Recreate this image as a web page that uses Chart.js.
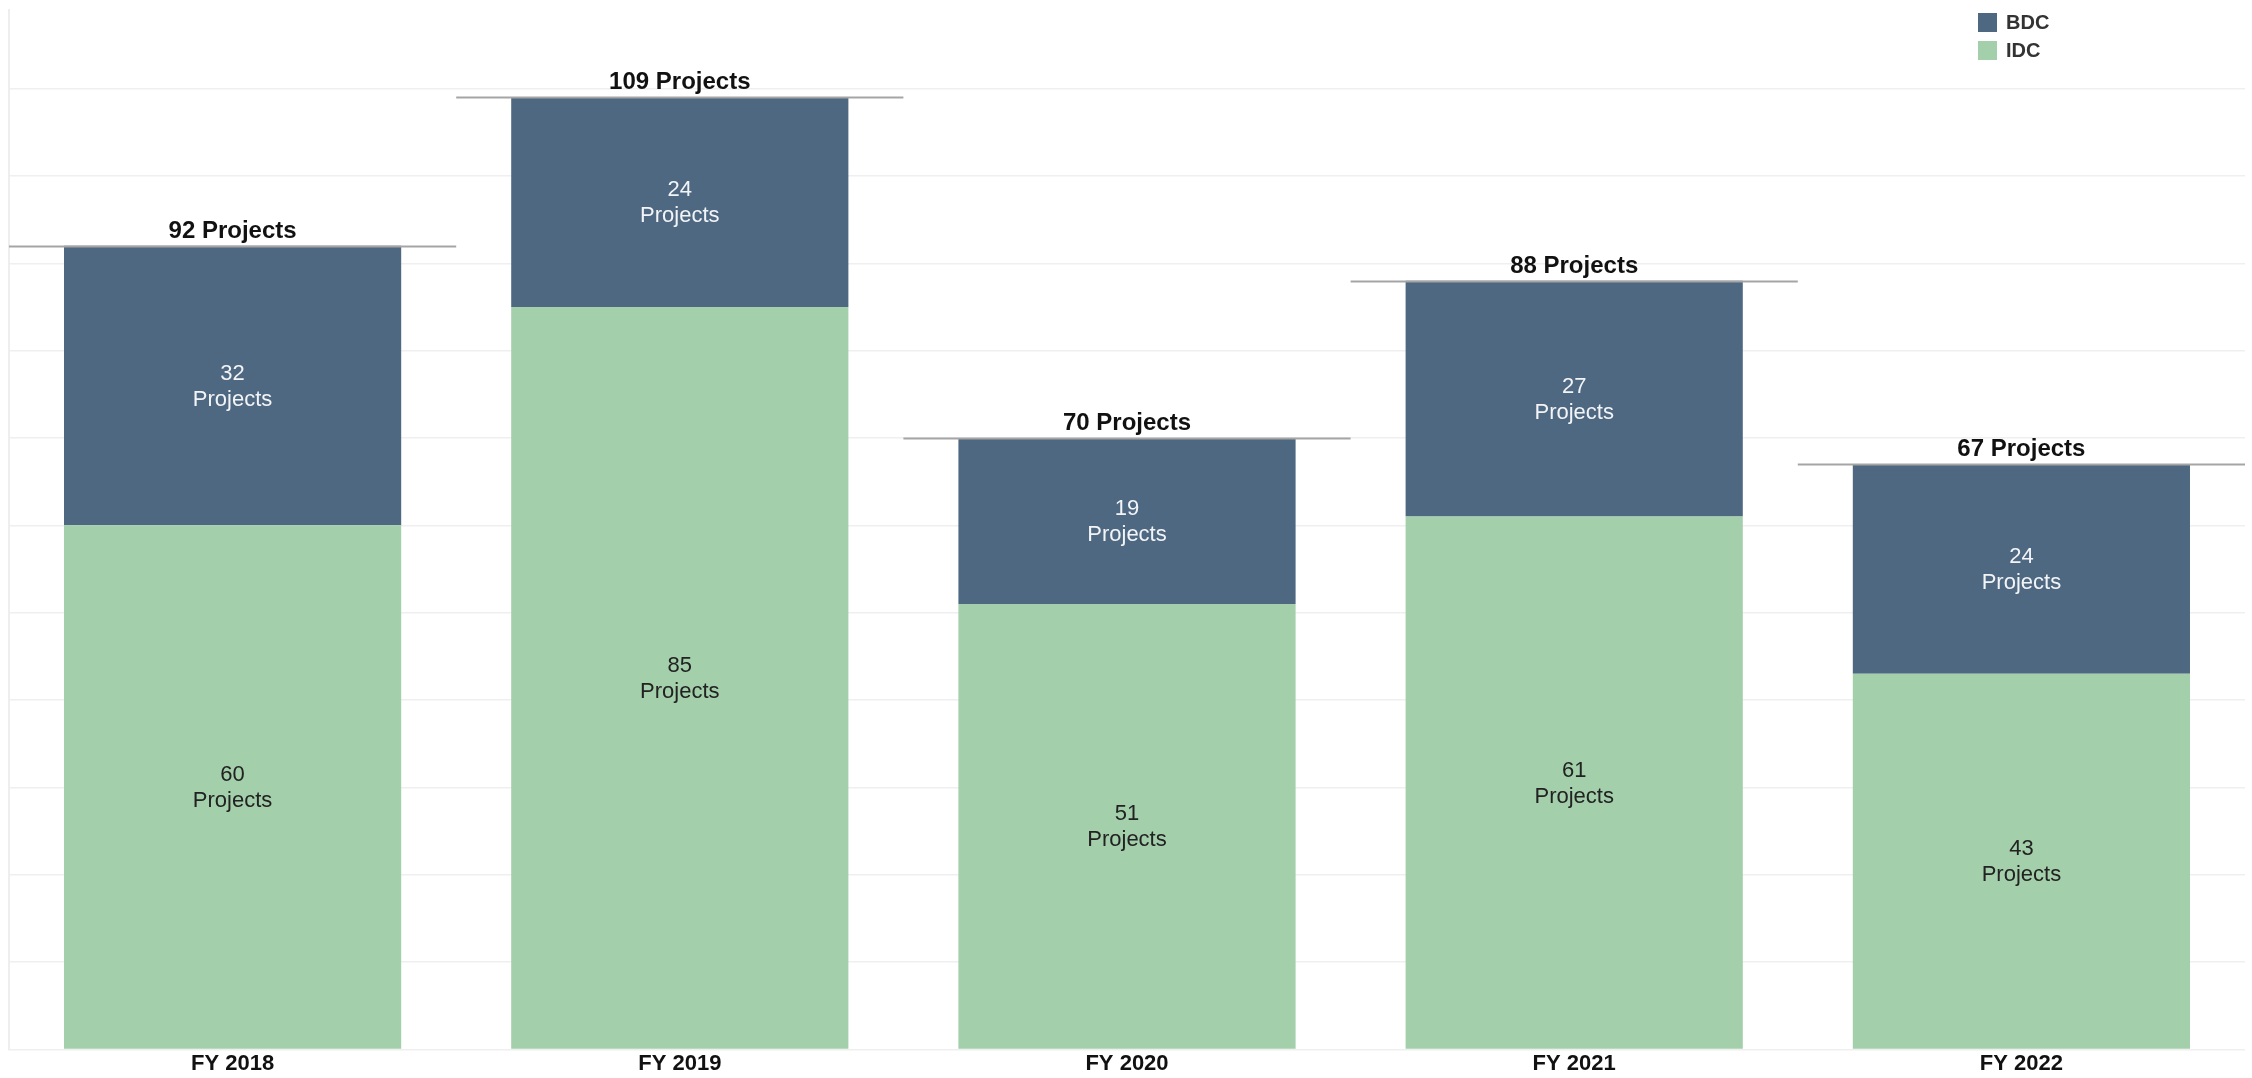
<!DOCTYPE html>
<html>
<head>
<meta charset="utf-8">
<script src="https://cdn.jsdelivr.net/npm/chart.js@4.4.1/dist/chart.umd.min.js"></script>
<style>
    html, body { margin: 0; padding: 0; background: #ffffff; }
    #wrap { position: relative; width: 2252px; height: 1078px; }
    #legend { position: absolute; left: 1978px; top: 8px; font: bold 20px "Liberation Sans", Arial, sans-serif; color: #333; }
    #legend div { display: flex; align-items: center; height: 28px; }
    #legend span.box { display: inline-block; width: 19px; height: 19px; margin-right: 9px; }
</style>
</head>
<body>
<div id="wrap">
    <canvas id="projectChart" width="2252" height="1078"></canvas>
    <div id="legend">
        <div><span class="box" style="background:#4f6881"></span>BDC</div>
        <div><span class="box" style="background:#a3cfab"></span>IDC</div>
    </div>
</div>
<script>
// Kategorien und Werte aus der Vorlage
const years = ["FY 2018", "FY 2019", "FY 2020", "FY 2021", "FY 2022"];
const idcValues = [60, 85, 51, 61, 43];
const bdcValues = [32, 24, 19, 27, 24];
const totals = [92, 109, 70, 88, 67];

const FONT = "'Liberation Sans', Arial, sans-serif";

// Zeichnet Summenlinie + Beschriftung über jedem Balken sowie die Segmentwerte
const projectLabels = {
    id: "projectLabels",
    afterDatasetsDraw(chart) {
        const ctx = chart.ctx;
        const x = chart.scales.x;
        const y = chart.scales.y;
        const half = (x.getPixelForValue(1) - x.getPixelForValue(0)) / 2;

        ctx.save();
        ctx.textAlign = "center";

        // Werte in den Segmenten
        chart.data.datasets.forEach((ds, di) => {
            const meta = chart.getDatasetMeta(di);
            meta.data.forEach((bar, i) => {
                const mid = (bar.y + bar.base) / 2;
                ctx.fillStyle = ds.labelColor;
                ctx.font = "22px " + FONT;
                ctx.textBaseline = "middle";
                ctx.fillText(String(ds.data[i]), bar.x, mid - 12);
                ctx.fillText("Projects", bar.x, mid + 14);
            });
        });

        // Summenlinien
        totals.forEach((t, i) => {
            const cx = x.getPixelForValue(i);
            const py = Math.round(y.getPixelForValue(t)) + 0.5;
            ctx.strokeStyle = "#a5a5a5";
            ctx.lineWidth = 2;
            ctx.beginPath();
            ctx.moveTo(cx - half, py);
            ctx.lineTo(cx + half, py);
            ctx.stroke();

            ctx.fillStyle = "#111";
            ctx.font = "bold 24px " + FONT;
            ctx.textBaseline = "alphabetic";
            ctx.fillText(t + " Projects", cx, py - 9);
        });
        ctx.restore();
    }
};

new Chart(document.getElementById("projectChart"), {
    type: "bar",
    data: {
        labels: years,
        datasets: [
            {
                label: "IDC",
                data: idcValues,
                backgroundColor: "#a3cfab",
                labelColor: "#222",
                barPercentage: 0.754,
                categoryPercentage: 1
            },
            {
                label: "BDC",
                data: bdcValues,
                backgroundColor: "#4f6881",
                labelColor: "#f2f4f7",
                barPercentage: 0.754,
                categoryPercentage: 1
            }
        ]
    },
    options: {
        responsive: false,
        animation: false,
        layout: { padding: { left: 9, right: 7, top: 10, bottom: 0 } },
        plugins: {
            legend: { display: false },
            tooltip: { enabled: false }
        },
        scales: {
            x: {
                stacked: true,
                grid: { display: false, drawTicks: false },
                border: { display: false },
                ticks: {
                    color: "#111",
                    padding: 0,
                    font: { size: 22, weight: "bold", family: FONT, lineHeight: 1.3 }
                }
            },
            y: {
                stacked: true,
                min: 0,
                max: 119,
                afterBuildTicks: (scale) => {
                    scale.ticks = scale.ticks.filter(t => t.value % 10 === 0);
                },
                ticks: { display: false, stepSize: 10 },
                grid: { color: "#efefef", lineWidth: 1.5, drawTicks: false },
                border: { display: true, color: "#eeeeee", width: 2 }
            }
        }
    },
    plugins: [projectLabels]
});
</script>
</body>
</html>
